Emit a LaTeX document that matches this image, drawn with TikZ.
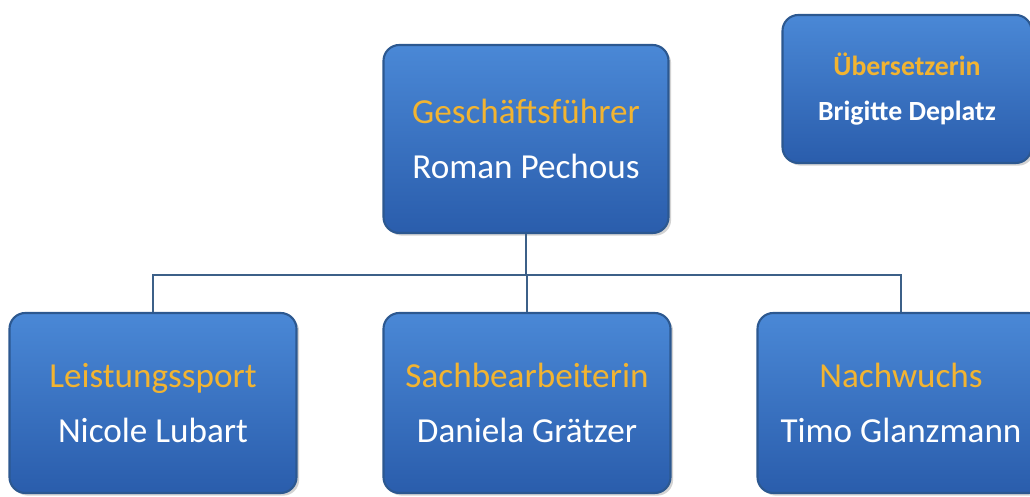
\documentclass[tikz,border=0pt]{standalone}
\usepackage{fontspec}
\setmainfont{Carlito}
\usepackage{tikz}
\usetikzlibrary{calc}
\usetikzlibrary{shadows}
\definecolor{boxtop}{HTML}{4A88D6}
\definecolor{boxbot}{HTML}{2A5DAC}
\definecolor{boxline}{HTML}{2C5890}
\definecolor{roletext}{HTML}{F2B431}
\definecolor{linkline}{HTML}{3C6088}

\begin{document}
\begin{tikzpicture}[
  % --- styles ---
  person/.style={
    draw=boxline, line width=1.2pt, rounded corners=9pt,
    top color=boxtop, bottom color=boxbot, text=white,
    drop shadow={shadow xshift=1.5pt, shadow yshift=-1.5pt, fill=black!35},
    align=center, minimum width=5.74cm, minimum height=3.6cm, inner sep=4pt,
    font=\fontsize{20}{31}\selectfont
  },
  boss/.style={person, minimum width=5.7cm, minimum height=3.76cm},
  aside/.style={person, minimum width=4.98cm, minimum height=2.96cm,
    font=\fontsize{15.8}{25.5}\selectfont\bfseries},
  link/.style={draw=linkline, line width=1.3pt}
]
\useasboundingbox (0,0) rectangle (20.6,-9.94);

% top row
\node[boss]  (gf)  at (10.52,-2.78) {{\color{roletext}Geschäftsführer}\\Roman Pechous};
\node[aside] (ueb) at (18.14,-1.78) {{\color{roletext}Übersetzerin}\\Brigitte Deplatz};

% bottom row
\node[person] (lub) at ( 3.06,-8.06) {{\color{roletext}Leistungssport}\\Nicole Lubart};
\node[person] (gra) at (10.54,-8.06) {{\color{roletext}Sachbearbeiterin}\\Daniela Grätzer};
\node[person] (gla) at (18.02,-8.06) {{\color{roletext}Nachwuchs}\\Timo Glanzmann};

% org lines
\coordinate (bus) at ($(gf.south)+(0,-0.82)$);
\draw[link] (gf.south) -- (bus) -| (lub.north);
\draw[link] (bus) -| (gra.north);
\draw[link] (bus) -| (gla.north);

\end{tikzpicture}
\end{document}
